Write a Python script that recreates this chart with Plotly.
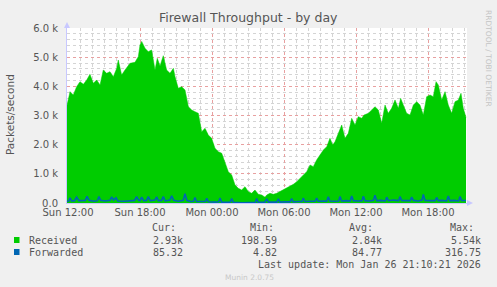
import plotly.graph_objects as go

# ---- data (hours since Sun 00:00) ----
recv_hours = [11.89, 12.17, 12.44, 12.72, 13.0, 13.28, 13.56, 13.83, 14.11, 14.39, 14.67, 14.94,
              15.22, 15.5, 15.78, 16.06, 16.19, 16.47, 16.75, 17.17, 17.58, 17.86, 18.0, 18.14,
              18.42, 18.69, 18.97, 19.25, 19.44, 19.67, 19.94, 20.22, 20.5, 20.78, 20.92, 21.19,
              21.47, 21.75, 22.03, 22.31, 22.58, 22.86, 23.14, 23.42, 23.69, 23.97, 24.25, 24.53,
              24.81, 25.08, 25.36, 25.64, 25.92, 26.19, 26.47, 26.75, 27.03, 27.31, 27.58, 27.86,
              28.14, 28.42, 28.56, 28.83, 29.11, 29.39, 29.67, 29.94, 30.22, 30.5, 30.78, 31.06,
              31.33, 31.61, 31.89, 32.17, 32.44, 32.72, 33.0, 33.28, 33.56, 33.83, 34.06, 34.25,
              34.53, 34.81, 35.08, 35.36, 35.64, 35.92, 36.19, 36.47, 36.67, 37.03, 37.31, 37.58,
              37.86, 38.14, 38.42, 38.69, 38.97, 39.25, 39.53, 39.72, 39.94, 40.22, 40.5, 40.78,
              41.06, 41.33, 41.61, 41.89, 42.17, 42.44, 42.67, 42.86, 43.14, 43.42, 43.69, 43.97,
              44.25, 44.53, 44.75, 44.94, 45.17]
received = [3300, 3817, 3703, 3989, 4160, 4069, 4218, 4412, 4103, 4218, 4046, 4560,
            4446, 4503, 4332, 4617, 4903, 4389, 4560, 4789, 4823, 5018, 5418, 5540,
            5304, 5190, 5247, 4560, 4960, 4700, 5050, 4560, 4446, 4617, 4332, 3932,
            3989, 3875, 3303, 3189, 3132, 3075, 2446, 2560, 2332, 2217, 1875, 1761,
            1704, 1418, 1075, 960, 617, 503, 446, 560, 389, 332, 446, 297,
            274, 199, 274, 332, 297, 332, 389, 446, 503, 560, 640, 731,
            846, 960, 1075, 1303, 1246, 1475, 1646, 1817, 1932, 2217, 1989, 2103,
            2389, 2675, 2217, 2389, 2903, 2675, 2960, 2903, 3017, 3075, 3189, 3303,
            3189, 2732, 3360, 3075, 3246, 3532, 3246, 3589, 3360, 3075, 3017, 3360,
            3475, 3360, 3017, 3646, 3703, 3646, 4160, 4046, 3532, 3817, 3360, 3075,
            3475, 3532, 3760, 3246, 2930]

fwd_hours = [11.89, 12.05, 12.17, 12.3, 12.55, 12.72, 12.9, 13.3, 13.45, 13.58, 13.75, 14.2,
             14.45, 14.58, 14.72, 15.1, 15.5, 15.64, 15.8, 16.0, 16.15, 16.7, 17.1, 17.55,
             17.72, 17.88, 18.0, 18.14, 18.3, 18.55, 18.69, 18.85, 19.25, 19.39, 19.52, 19.8,
             19.94, 20.1, 20.5, 20.64, 20.8, 21.2, 21.6, 21.75, 21.9, 22.2, 22.45, 22.58,
             22.72, 23.2, 23.45, 23.56, 23.7, 24.2, 24.55, 24.67, 24.8, 25.3, 25.52, 25.64,
             25.78, 26.5, 27.0, 27.6, 27.72, 27.85, 28.4, 28.56, 28.7, 29.4, 29.53, 29.66,
             30.1, 30.5, 30.64, 30.78, 31.2, 31.5, 31.61, 31.74, 32.3, 32.6, 32.72, 32.85,
             33.3, 33.56, 33.69, 33.82, 34.2, 34.55, 34.67, 34.8, 35.2, 35.52, 35.64, 35.78,
             36.2, 36.5, 36.61, 36.75, 37.1, 37.45, 37.58, 37.72, 38.1, 38.45, 38.56, 38.7,
             39.1, 39.55, 39.67, 39.8, 40.2, 40.52, 40.64, 40.78, 41.2, 41.5, 41.61, 41.75,
             42.2, 42.6, 42.72, 42.85, 43.2, 43.56, 43.69, 43.82, 44.2, 44.55, 44.67, 44.8,
             45.17]
forwarded = [60, 70, 180, 70, 80, 200, 80, 70, 90, 230, 90, 60,
             80, 220, 90, 70, 90, 210, 100, 180, 70, 60, 70, 90,
             220, 90, 80, 200, 80, 90, 220, 80, 100, 210, 80, 90,
             220, 70, 100, 250, 90, 60, 90, 316.75, 90, 50, 60, 190,
             50, 40, 50, 160, 40, 30, 40, 170, 30, 20, 30, 150,
             20, 10, 4.82, 20, 150, 20, 30, 140, 30, 30, 140, 30,
             40, 40, 150, 40, 50, 50, 170, 50, 60, 60, 170, 60,
             70, 60, 210, 70, 60, 70, 220, 70, 80, 70, 240, 80,
             70, 80, 230, 80, 70, 90, 270, 80, 90, 70, 200, 80,
             100, 80, 220, 90, 80, 80, 200, 90, 70, 100, 290, 90,
             80, 80, 190, 80, 90, 70, 240, 80, 90, 70, 220, 90,
             85.32]

x_tick_vals = [12, 18, 24, 30, 36, 42]
x_tick_text = ["Sun 12:00", "Sun 18:00", "Mon 00:00", "Mon 06:00", "Mon 12:00", "Mon 18:00"]
y_tick_vals = [0, 1000, 2000, 3000, 4000, 5000, 6000]
y_tick_text = ["0.0", "1.0 k", "2.0 k", "3.0 k", "4.0 k", "5.0 k", "6.0 k"]

series_names = ["Received", "Forwarded"]
series_colors = ["#00cc00", "#0066b3"]
stat_cur = ["2.93k", "85.32"]
stat_min = ["198.59", "4.82"]
stat_avg = ["2.84k", "84.77"]
stat_max = ["5.54k", "316.75"]

# ---- figure ----
W, H = 497, 287
L, R, T, B = 67, 467, 28, 203

def px(x):
    return (x - L) / (R - L)

def py(y):
    return (B - y) / (B - T)

fig = go.Figure()
fig.add_trace(go.Scatter(x=recv_hours, y=received, mode="lines", fill="tozeroy",
                         line=dict(color=series_colors[0], width=0.5),
                         fillcolor=series_colors[0], name=series_names[0]))
fig.add_trace(go.Scatter(x=fwd_hours, y=forwarded, mode="lines",
                         line=dict(color=series_colors[1], width=1.6), name=series_names[1]))

gray = "#555555"
mono = "DejaVu Sans Mono"
ann = []
ann.append(dict(text="Firewall Throughput - by day", x=px(248.5), y=py(18), xref="paper", yref="paper",
                showarrow=False, font=dict(family="DejaVu Sans", size=12.5, color=gray),
                xanchor="center", yanchor="middle"))
ann.append(dict(text="Packets/second", x=px(10), y=py(115), xref="paper", yref="paper",
                showarrow=False, textangle=-90, font=dict(family="DejaVu Sans", size=10.5, color=gray),
                xanchor="center", yanchor="middle"))
ann.append(dict(text="RRDTOOL / TOBI OETIKER", x=px(488), y=py(58), xref="paper", yref="paper",
                showarrow=False, textangle=90, font=dict(family="DejaVu Sans", size=7.5, color="#c4c4c4"),
                xanchor="center", yanchor="middle"))

def txt(s, x, y, anchor="left", color=gray, size=10, fam=mono):
    ann.append(dict(text=s, x=px(x), y=py(y), xref="paper", yref="paper", showarrow=False,
                    xanchor=anchor, yanchor="middle", font=dict(family=fam, size=size, color=color)))

txt("Cur:", 150, 227)
txt("Min:", 248, 227)
txt("Avg:", 346.5, 227)
txt("Max:", 448, 227)
rows_y = [240, 252]
for i in range(2):
    txt(series_names[i], 26.5, rows_y[i])
    txt(stat_cur[i], 184.5, rows_y[i], "right")
    txt(stat_min[i], 278.5, rows_y[i], "right")
    txt(stat_avg[i], 383.5, rows_y[i], "right")
    txt(stat_max[i], 482.5, rows_y[i], "right")
txt("Last update: Mon Jan 26 21:10:21 2026", 482.5, 264, "right")
txt("Munin 2.0.75", 223, 277.5, "left", color="#c8c8c8", size=7.5, fam="DejaVu Sans")

shapes = []
for i in range(2):
    shapes.append(dict(type="rect", xref="paper", yref="paper",
                       x0=px(14), x1=px(19.5), y0=py(rows_y[i] + 3), y1=py(rows_y[i] - 3),
                       fillcolor=series_colors[i], line=dict(width=0)))
# axis arrows
shapes.append(dict(type="path", xref="paper", yref="paper",
                   path=f"M {px(64)} {py(28)} L {px(70)} {py(28)} L {px(67)} {py(22)} Z",
                   fillcolor="#c8c8ff", line=dict(width=0)))
shapes.append(dict(type="path", xref="paper", yref="paper",
                   path=f"M {px(467)} {py(200)} L {px(467)} {py(206)} L {px(473)} {py(203)} Z",
                   fillcolor="#c8c8ff", line=dict(width=0)))

fig.update_layout(
    width=W, height=H, autosize=False,
    margin=dict(l=L, r=W - R, t=T, b=H - B, pad=0),
    paper_bgcolor="#f0f0f0", plot_bgcolor="#ffffff",
    showlegend=False,
    annotations=ann, shapes=shapes,
    font=dict(family="DejaVu Sans", size=10, color=gray),
)
fig.update_xaxes(range=[11.917, 45.25], tickvals=x_tick_vals, ticktext=x_tick_text,
                 showgrid=True, gridcolor="#e8a0a0", griddash="dot", gridwidth=1,
                 minor=dict(dtick=1, tick0=12, showgrid=True, gridcolor="#d4d4d4", griddash="dot", gridwidth=1),
                 showline=True, linecolor="#c8c8ff", linewidth=1, zeroline=False,
                 ticks="", tickfont=dict(size=10, color=gray), layer="below traces")
fig.update_yaxes(range=[0, 6000], tickvals=y_tick_vals, ticktext=y_tick_text,
                 showgrid=True, gridcolor="#e8a0a0", griddash="dot", gridwidth=1,
                 minor=dict(dtick=200, tick0=0, showgrid=True, gridcolor="#d4d4d4", griddash="dot", gridwidth=1),
                 showline=True, linecolor="#c8c8ff", linewidth=1, zeroline=False,
                 ticks="", tickfont=dict(size=10, color=gray), ticklabelstandoff=6)

fig.write_html("out.html")
